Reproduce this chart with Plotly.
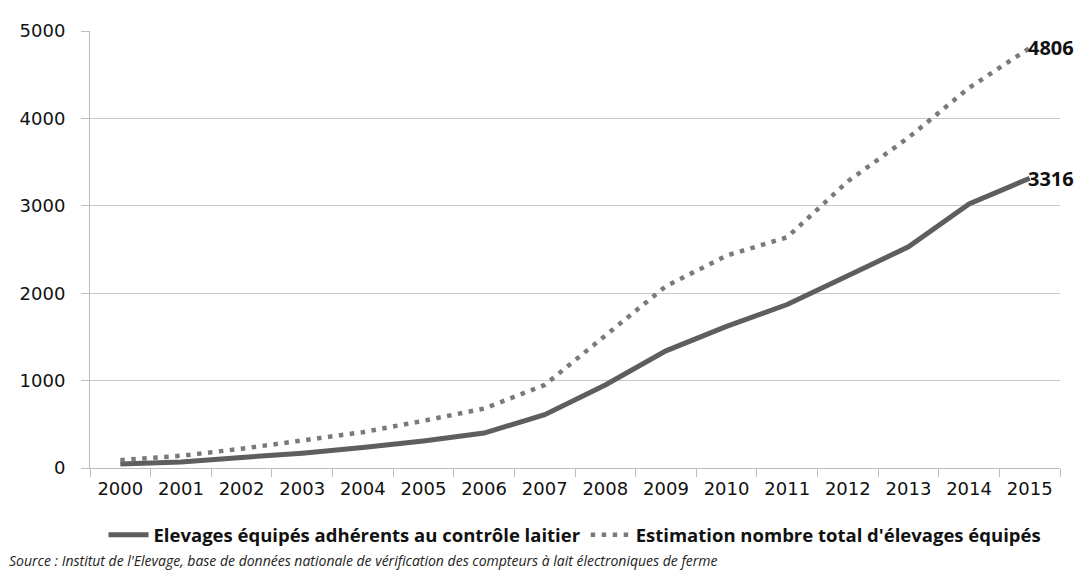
import plotly.graph_objects as go

years = [str(y) for y in range(2000, 2016)]
adherents = [45, 70, 120, 170, 235, 310, 400, 610, 950, 1340, 1620, 1870, 2200, 2530, 3020, 3316]
estimation = [90, 140, 220, 310, 410, 540, 680, 950, 1510, 2080, 2430, 2640, 3280, 3780, 4350, 4806]
name_adh = "Elevages équipés adhérents au contrôle laitier"
name_est = "Estimation nombre total d'élevages équipés"
source = "Source : Institut de l'Elevage, base de données nationale de vérification des compteurs à lait électroniques de ferme"

fig = go.Figure()
fig.add_trace(go.Scatter(x=years, y=adherents, mode="lines", name=name_adh,
                         line=dict(color="#5e5e5e", width=5)))
fig.add_trace(go.Scatter(x=years, y=estimation, mode="lines", name=name_est,
                         line=dict(color="#7a7a7a", width=4.5, dash="4.5px,6.5px")))

last = len(years) - 1
fig.add_annotation(x=last, y=adherents[-1], text="<b>%d</b>" % adherents[-1],
                   showarrow=False, xanchor="left", xshift=-4,
                   font=dict(family="Open Sans", size=20, color="#111"))
fig.add_annotation(x=last, y=estimation[-1], text="<b>%d</b>" % estimation[-1],
                   showarrow=False, xanchor="left", xshift=-4,
                   font=dict(family="Open Sans", size=20, color="#111"))
fig.add_annotation(xref="paper", yref="paper", x=-0.086, y=-0.2125, xanchor="left", yanchor="middle",
                   text="<i>" + source + "</i>", showarrow=False,
                   font=dict(family="Open Sans", size=14, color="#222"))

fig.update_layout(
    width=1077, height=564,
    margin=dict(l=74, r=25, t=13, b=104),
    paper_bgcolor="white", plot_bgcolor="white",
    showlegend=True,
    legend=dict(orientation="h", x=0.5, xanchor="center", y=-0.154, yanchor="middle",
                font=dict(family="Open Sans", size=18.5, color="#111", weight="bold"),
                itemwidth=40),
    font=dict(family="DejaVu Sans", color="#111"),
)
fig.update_xaxes(type="category", range=[-0.5, len(years) - 0.5],
                 showline=True, linecolor="#bdbdbd", linewidth=1,
                 ticks="outside", tickson="boundaries", ticklen=8, tickcolor="#bdbdbd",
                 tickfont=dict(family="DejaVu Sans", size=18, color="#111"),
                 ticklabelstandoff=4, tickangle=0, showgrid=False)
fig.update_yaxes(range=[0, 5000], dtick=1000, showline=True, linecolor="#bdbdbd", linewidth=1,
                 gridcolor="#c8c8c8", gridwidth=1, zeroline=False,
                 ticks="outside", ticklen=8, tickcolor="#bdbdbd", ticklabelstandoff=12,
                 tickfont=dict(family="DejaVu Sans", size=18, color="#111"))

fig.write_html("out.html")
